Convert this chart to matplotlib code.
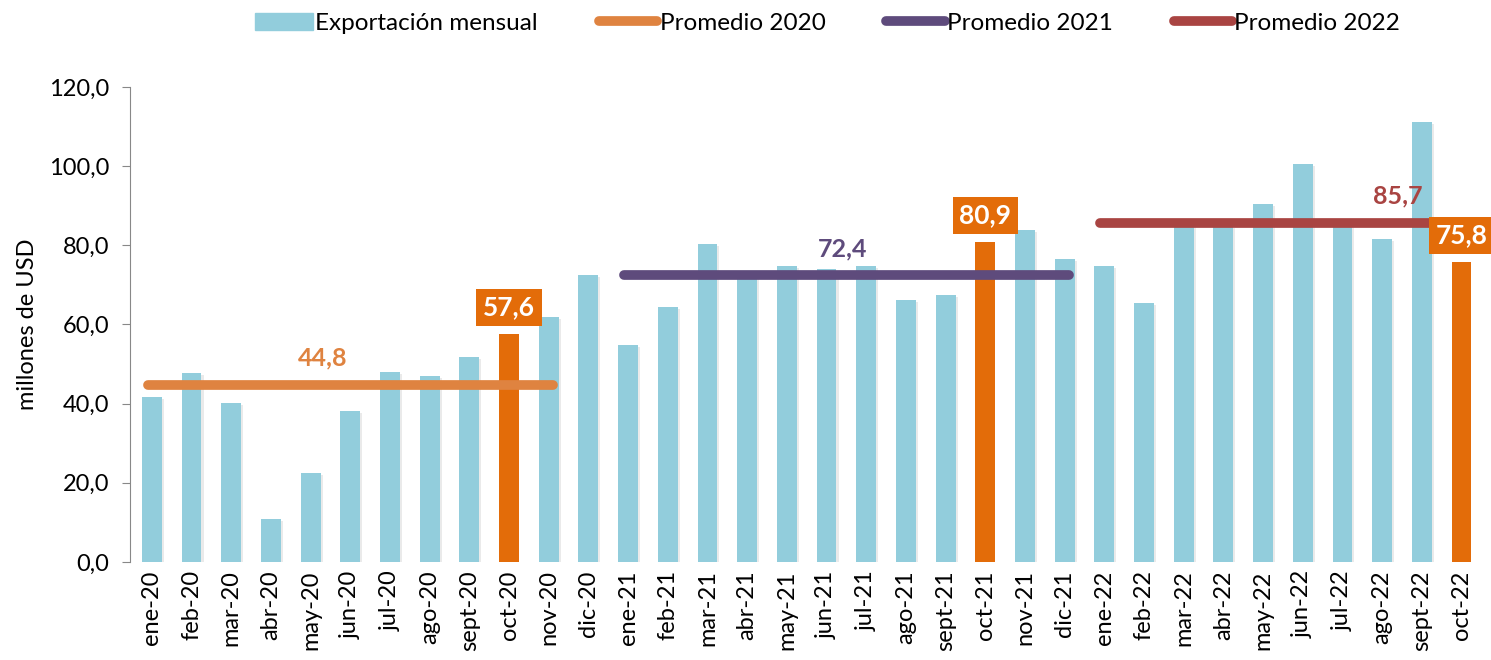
import matplotlib

matplotlib.use("Agg")
import matplotlib.pyplot as plt
import numpy as np
from matplotlib.lines import Line2D
from matplotlib.patches import Patch
import matplotlib.patheffects as pe

plt.rcParams["font.family"] = ["Lato", "DejaVu Sans"]

MONTHS = ["ene-20", "feb-20", "mar-20", "abr-20", "may-20", "jun-20", "jul-20", "ago-20", "sept-20", "oct-20",
          "nov-20", "dic-20", "ene-21", "feb-21", "mar-21", "abr-21", "may-21", "jun-21", "jul-21", "ago-21",
          "sept-21", "oct-21", "nov-21", "dic-21", "ene-22", "feb-22", "mar-22", "abr-22", "may-22", "jun-22",
          "jul-22", "ago-22", "sept-22", "oct-22"]
EXPORTS = [41.7, 47.7, 40.2, 10.9, 22.5, 38.1, 48.0, 47.0, 51.8, 57.6, 61.9, 72.5,
           54.8, 64.4, 80.3, 72.0, 74.9, 74.0, 74.7, 66.2, 67.5, 80.9, 83.8, 76.6,
           74.8, 65.4, 86.0, 85.0, 90.5, 100.6, 85.5, 81.5, 111.2, 75.8]
HIGHLIGHT = ["oct-20", "oct-21", "oct-22"]

AVG_NAMES = ["Promedio 2020", "Promedio 2021", "Promedio 2022"]
AVG_VALUES = [44.8, 72.4, 85.7]
AVG_START = ["ene-20", "ene-21", "ene-22"]
AVG_END = ["nov-20", "dic-21", "oct-22"]
AVG_LABEL_AT = [4.3, 17.4, 31.4]

BLUE = "#92CDDC"
ORANGE = "#E36C09"
AVG_COLORS = ["#DF8340", "#5E4B7C", "#A94442"]


def fmt(v):
    return f"{v:.1f}".replace(".", ",")


fig = plt.figure(figsize=(14.91, 6.6), dpi=100)
ax = fig.add_axes([0.0872, 0.1485, 0.909, 0.7197])

x = np.arange(len(MONTHS))
colors = [ORANGE if m in HIGHLIGHT else BLUE for m in MONTHS]
bars = ax.bar(x, EXPORTS, width=0.5, color=colors, zorder=2)
for b, m in zip(bars, MONTHS):
    if m not in HIGHLIGHT:
        b.set_path_effects([pe.SimplePatchShadow(offset=(1.5, -1.5), shadow_rgbFace="#999999", alpha=0.2),
                            pe.Normal()])

for name, val, s, e, lx, c in zip(AVG_NAMES, AVG_VALUES, AVG_START, AVG_END, AVG_LABEL_AT, AVG_COLORS):
    i0, i1 = MONTHS.index(s), MONTHS.index(e)
    ax.plot([i0 - 0.1, i1 + 0.1], [val, val], color=c, lw=7, solid_capstyle="round", zorder=3)
    ax.annotate(fmt(val), (lx, val), xytext=(0, 11), textcoords="offset points", ha="center", va="bottom",
                fontsize=18, fontweight="bold", color=c, zorder=4)

for m in HIGHLIGHT:
    i = MONTHS.index(m)
    ax.annotate(fmt(EXPORTS[i]), (i, EXPORTS[i]), xytext=(0, 19), textcoords="offset points", ha="center",
                va="center", fontsize=19, fontweight="bold", color="white", zorder=5,
                bbox=dict(boxstyle="square,pad=0.25", fc=ORANGE, ec="none"))

ax.set_xlim(-0.55, len(MONTHS) - 0.4)
ax.set_ylim(0, 120)
ax.set_yticks(np.arange(0, 121, 20))
ax.set_yticklabels([fmt(v) for v in np.arange(0, 121, 20)], fontsize=17)
ax.set_xticks(x)
ax.set_xticklabels(MONTHS, rotation=90, fontsize=17)
ax.tick_params(axis="x", length=0, pad=6)
ax.tick_params(axis="y", length=6, color="#888888", pad=9)
ax.set_ylabel("millones de USD", fontsize=17, labelpad=8)
for side in ["top", "right", "bottom"]:
    ax.spines[side].set_visible(False)
ax.spines["left"].set_color("#888888")

handles = [Patch(color=BLUE)] + [Line2D([0], [0], color=c, lw=7, solid_capstyle="round") for c in AVG_COLORS]
fig.legend(handles, ["Exportación mensual"] + AVG_NAMES, loc="center", bbox_to_anchor=(0.555, 0.965), ncol=4,
           frameon=False, fontsize=17.5, handlelength=2.4, handletextpad=0.1, columnspacing=2.5)

fig.savefig("out.png", dpi=100)
